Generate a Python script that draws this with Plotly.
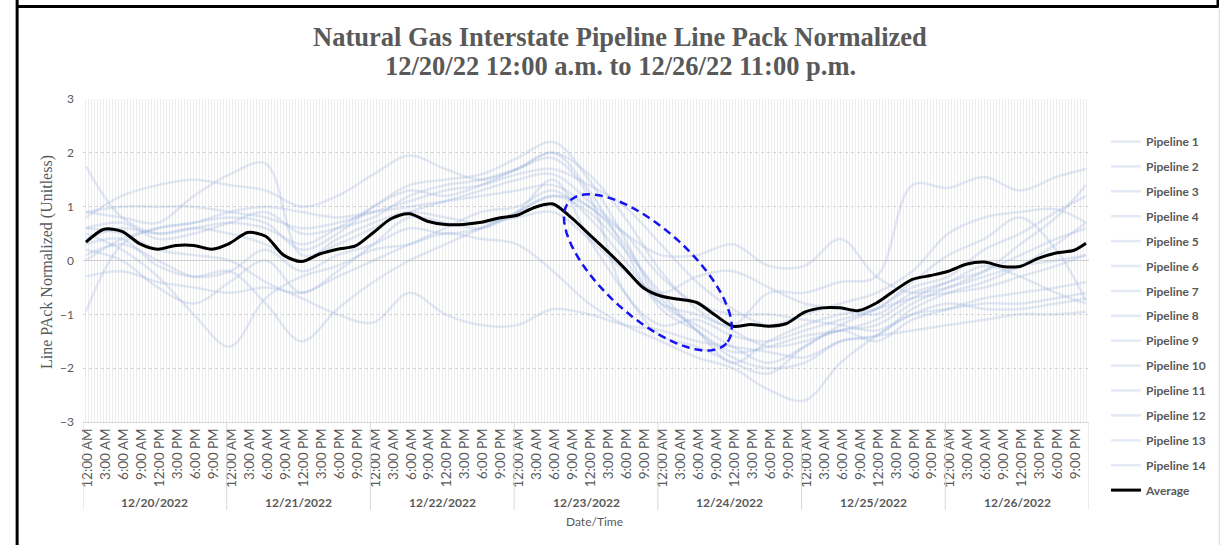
import math
import plotly.graph_objects as go

# ---------------- data ----------------
DATES = ["12/20/2022", "12/21/2022", "12/22/2022", "12/23/2022",
         "12/24/2022", "12/25/2022", "12/26/2022"]
TIME_LABELS = ["12:00 AM", "3:00 AM", "6:00 AM", "9:00 AM",
               "12:00 PM", "3:00 PM", "6:00 PM", "9:00 PM"]

# hour index (0 = 12/20 12:00 AM) of the readings of the average line
AVG_HOURS = [0, 3, 6, 9, 12, 15, 18, 21, 24, 27, 30, 33, 36, 39, 42, 45, 48, 51,
             54, 57, 60, 63, 66, 69, 72, 75, 78, 81, 84, 87, 90, 93, 96, 99, 102,
             105, 108, 111, 114, 117, 120, 123, 126, 129, 132, 135, 138, 141, 144,
             147, 150, 153, 156, 159, 162, 165, 167]
AVERAGE = [0.34, 0.58, 0.54, 0.31, 0.21, 0.28, 0.28, 0.21, 0.32, 0.52, 0.45, 0.10,
           -0.02, 0.12, 0.21, 0.27, 0.52, 0.78, 0.87, 0.73, 0.67, 0.67, 0.71, 0.79,
           0.84, 0.99, 1.05, 0.80, 0.49, 0.18, -0.15, -0.50, -0.66, -0.72, -0.78,
           -1.01, -1.22, -1.19, -1.22, -1.17, -0.96, -0.88, -0.88, -0.93, -0.79,
           -0.56, -0.35, -0.28, -0.20, -0.07, -0.03, -0.11, -0.11, 0.04, 0.14,
           0.19, 0.32]

# hour index of the pipeline readings
PIPE_HOURS = [0, 6, 12, 18, 24, 30, 36, 42, 48, 54, 60, 66, 72, 78, 84, 90, 96,
              102, 108, 114, 120, 126, 132, 138, 144, 150, 156, 162, 167]
P1 = [1.75, 0.8, 0.5, 0.6, 0.7, 0.6, 0.3, 0.6, 1.0, 1.3, 1.2, 1.4, 1.7, 2.0, 1.3, 0.2,
      -0.9, -1.3, -1.7, -1.6, -1.4, -1.3, -1.1, -0.7, -0.4, -0.2, 0.1, 0.4, 0.6]
P2 = [-0.95, 0.3, 0.6, 0.7, 0.8, 0.7, 0.2, 0.5, 1.0, 1.4, 1.5, 1.6, 1.9, 2.2, 1.5, 0.4,
      -0.8, -1.2, -1.6, -1.9, -1.6, -1.2, -0.9, -0.5, -0.3, 0.2, 0.5, 0.9, 1.2]
P3 = [0.5, 0.2, -0.3, -1.0, -1.6, -0.7, -0.3, -0.1, 0.2, 0.3, 0.5, 0.4, 0.3, -0.2, -0.8,
      -1.2, -1.5, -1.8, -2.0, -2.4, -2.6, -1.9, -1.4, -1.0, -0.8, -0.9, -0.9, -0.8, -0.7]
P4 = [0.9, 0.8, 0.7, 1.2, 1.6, 1.8, 0.1, 0.3, 0.6, 0.9, 1.1, 1.3, 1.5, 1.6, 1.1, 0.5,
      -0.3, -0.8, -1.0, -1.0, -1.1, -1.2, -1.3, -1.0, -0.9, -0.8, -0.8, -0.7, -0.6]
P5 = [0.3, 0.4, -0.1, -0.3, -0.2, -0.8, -1.5, -0.9, -0.4, 0.0, 0.3, 0.6, 0.9, 1.2, 0.9,
      0.2, -0.6, -1.3, -1.8, -2.0, -1.9, -1.5, -1.4, -0.9, -0.6, -0.4, -0.1, 0.3, 0.7]
P6 = [0.8, 1.2, 1.4, 1.5, 1.4, 1.3, 1.0, 1.2, 1.6, 1.95, 1.7, 1.5, 1.7, 2.0, 1.6, 0.8,
      -0.2, -0.9, -1.3, -1.6, -1.5, -1.3, -1.2, -0.8, -0.5, -0.2, 0.3, 0.8, 1.4]
P7 = [0.6, 0.5, 0.2, 0.1, 0.0, -0.4, -0.7, -1.0, -1.15, -0.6, -1.0, -1.2, -1.2, -0.9,
      -1.0, -1.2, -1.3, -1.5, -1.6, -1.7, -1.8, -1.5, -1.4, -1.3, -1.2, -1.1, -1.0,
      -1.0, -0.95]
P8 = [0.0, 0.4, 0.6, 0.7, 0.9, 1.0, 0.9, 0.8, 0.9, 1.0, 1.1, 1.2, 1.3, 1.4, 1.0, 0.5,
      0.1, 0.1, 0.3, -0.1, -0.1, 0.4, -0.3, -0.6, -0.5, -0.3, -0.1, 0.0, 0.1]
P9 = [-0.3, -0.2, -0.4, -0.5, -0.6, -0.5, -0.6, -0.3, 0.0, 0.3, 0.6, 0.9, 1.0, 1.3, 0.8,
      0.0, -0.8, -1.0, -1.2, -0.6, -0.6, -0.4, -0.3, 1.4, 1.35, 1.55, 1.3, 1.55, 1.7]
P10 = [0.9, 1.0, 1.0, 1.0, 0.9, 0.8, 0.6, 0.7, 0.9, 1.1, 1.3, 1.4, 1.6, 1.7, 1.4, 1.0,
       0.3, -0.4, -0.9, -1.2, -1.0, -0.8, -0.6, -0.2, 0.5, 0.8, 0.9, 0.95, 0.7]
P11 = [0.6, 0.7, 0.4, 0.5, 0.7, 0.9, 0.5, 0.6, 0.8, 1.2, 1.4, 1.5, 1.7, 1.9, 1.2, -0.6,
       -1.2, -1.1, -1.4, -1.5, -1.3, -1.1, -0.9, -0.4, 0.1, 0.4, 0.8, 0.2, -0.75]
P12 = [0.2, 0.0, -0.5, -0.8, -0.4, 0.0, -0.6, -0.2, 0.3, 0.8, 0.7, 0.6, 0.9, 1.5, 0.4,
       -0.6, -1.4, -1.6, -1.9, -2.1, -1.6, -1.3, -1.5, -1.1, -0.9, -0.7, -0.6, -0.5, -0.4]
P13 = [0.4, 0.6, 0.5, 0.6, 0.5, 0.3, 0.0, 0.4, 0.7, 0.9, 0.8, 0.7, 0.8, 0.9, 0.4, -0.2,
       -0.6, -0.3, -0.2, -0.5, -0.8, -0.9, -1.0, -0.6, -0.4, -0.1, -0.3, -0.6, -0.8]
P14 = [0.1, 0.3, 0.0, -0.3, -0.2, 0.2, -0.2, 0.1, 0.3, 0.6, 0.5, 0.6, 0.9, 1.2, 1.0, 0.3,
       -0.7, -1.3, -1.9, -1.5, -1.2, -1.0, -0.9, -0.7, -0.6, -0.5, -0.3, -0.1, 0.1]
PIPELINES = [P1, P2, P3, P4, P5, P6, P7, P8, P9, P10, P11, P12, P13, P14]

# ---------------- layout geometry ----------------
W, H = 1223, 545
ML, MR, MT, MB = 83, 132, 99, 123
PW, PH = W - ML - MR, H - MT - MB


def px(xp):
    return (xp - ML) / PW


def py(yp):
    return (H - MB - yp) / PH


GRAY = "#595959"
SANS = "Lato, 'Noto Sans', sans-serif"
SERIF = "'Liberation Serif', 'Times New Roman', serif"

fig = go.Figure()

for i, vals in enumerate(PIPELINES):
    fig.add_trace(go.Scatter(
        x=PIPE_HOURS, y=vals, mode="lines", name=f"Pipeline {i + 1}",
        legendgroup=f"g{i}",
        line=dict(color="rgba(143,170,220,0.25)", width=2.5, shape="spline", smoothing=1.0),
        hoverinfo="skip"))

fig.add_trace(go.Scatter(
    x=AVG_HOURS, y=AVERAGE, mode="lines", name="Average", legendgroup="gavg",
    line=dict(color="black", width=3, shape="spline", smoothing=0.8)))

# tick labels every 3 hours (nudged slightly right of the hour centre, as in Excel)
tickvals, ticktext = [], []
for d in range(len(DATES)):
    for k, lab in enumerate(TIME_LABELS):
        tickvals.append(d * 24 + k * 3 + 0.3)
        ticktext.append(lab)

shapes = []
annotations = []

# date separators below the axis
for d in range(len(DATES) + 1):
    shapes.append(dict(type="line", xref="x", yref="paper",
                       x0=d * 24 - 0.5, x1=d * 24 - 0.5, y0=0, y1=py(510),
                       line=dict(color="#d9d9d9", width=1)))
for d, lab in enumerate(DATES):
    annotations.append(dict(x=d * 24 + 11.5, y=py(502), xref="x", yref="paper",
                            xanchor="center", yanchor="middle",
                            text=lab, showarrow=False,
                            font=dict(family=SANS, size=12, color=GRAY, weight="bold")))

annotations.append(dict(x=px(596), y=py(521), xref="paper", yref="paper",
                        xanchor="center", yanchor="middle",
                        text="Date/Time", showarrow=False,
                        font=dict(family=SANS, size=12, color=GRAY)))
annotations.append(dict(x=px(47), y=py(262), xref="paper", yref="paper",
                        xanchor="center", yanchor="middle",
                        text="Line PAck Normalized (Unitless)", showarrow=False,
                        textangle=-90,
                        font=dict(family=SERIF, size=16, color=GRAY)))
annotations.append(dict(x=px(621), y=py(37), xref="paper", yref="paper",
                        xanchor="center", yanchor="middle",
                        text="<b>Natural Gas Interstate Pipeline Line Pack Normalized</b>",
                        showarrow=False,
                        font=dict(family=SERIF, size=26.5, color=GRAY)))
annotations.append(dict(x=px(622), y=py(66), xref="paper", yref="paper",
                        xanchor="center", yanchor="middle",
                        text="<b>12/20/22 12:00 a.m. to 12/26/22 11:00 p.m.</b>",
                        showarrow=False,
                        font=dict(family=SERIF, size=26.5, color=GRAY)))

# dashed highlight ellipse (pixel geometry converted to data units)
cx_px, cy_px, a_px, b_px, th = 649.0, 272.4, 106.0, 44.0, math.radians(42)
pts = []
for k in range(73):
    t = 2 * math.pi * k / 72
    dx = a_px * math.cos(t) * math.cos(th) - b_px * math.sin(t) * math.sin(th)
    dy = a_px * math.cos(t) * math.sin(th) + b_px * math.sin(t) * math.cos(th)
    xd = (cx_px + dx - ML) / (PW / 168.0) - 0.5
    yd = 3 - (cy_px + dy - MT) / (PH / 6.0)
    pts.append(f"{xd:.3f},{yd:.4f}")
shapes.append(dict(type="path", xref="x", yref="y",
                   path="M" + " L".join(pts) + " Z",
                   line=dict(color="#1414f0", width=2.5, dash="8px,5px")))

# outer frame fragments
shapes.append(dict(type="line", xref="paper", yref="paper", x0=px(17), x1=px(17),
                   y0=py(0), y1=py(545), line=dict(color="black", width=3)))
shapes.append(dict(type="line", xref="paper", yref="paper", x0=px(17), x1=px(1220.5),
                   y0=py(6.5), y1=py(6.5), line=dict(color="black", width=3)))
shapes.append(dict(type="line", xref="paper", yref="paper", x0=px(1220), x1=px(1220),
                   y0=py(0), y1=py(7.5), line=dict(color="black", width=2.5)))
shapes.append(dict(type="line", xref="paper", yref="paper", x0=px(1221.5), x1=px(1221.5),
                   y0=py(9), y1=py(545), line=dict(color="#d9d9d9", width=1)))

fig.update_layout(
    width=W, height=H,
    margin=dict(l=ML, r=MR, t=MT, b=MB),
    paper_bgcolor="white", plot_bgcolor="white",
    showlegend=True,
    legend=dict(x=px(1108), y=py(127), xanchor="left", yanchor="top",
                tracegroupgap=5.9, itemwidth=30, maxheight=600,
                font=dict(family=SANS, size=12, color=GRAY, weight="bold"),
                bgcolor="rgba(0,0,0,0)"),
    shapes=shapes, annotations=annotations,
    xaxis=dict(range=[-0.5, 167.5], tickmode="array", tickvals=tickvals,
               ticktext=ticktext, tickangle=-90, showgrid=False,
               tickfont=dict(family=SANS, size=13.5, color=GRAY),
               showline=True, linecolor="#d9d9d9", linewidth=1,
               ticks="", zeroline=False,
               minor=dict(tickmode="linear", tick0=-0.5, dtick=0.5,
                          showgrid=True, gridcolor="#ececec", gridwidth=1)),
    yaxis=dict(range=[-3, 3], tickmode="linear", tick0=-3, dtick=1,
               showgrid=True, gridcolor="#d4d4d4", griddash="dot", gridwidth=1,
               zeroline=True, zerolinecolor="#d0d0d0", zerolinewidth=1.2,
               tickfont=dict(family=SANS, size=12, color=GRAY),
               ticks="", ticklabelstandoff=8, showline=False),
)

fig.write_html("out.html", config={"displayModeBar": False},
               post_script="document.body.style.margin='0';document.body.style.overflow='hidden';")
